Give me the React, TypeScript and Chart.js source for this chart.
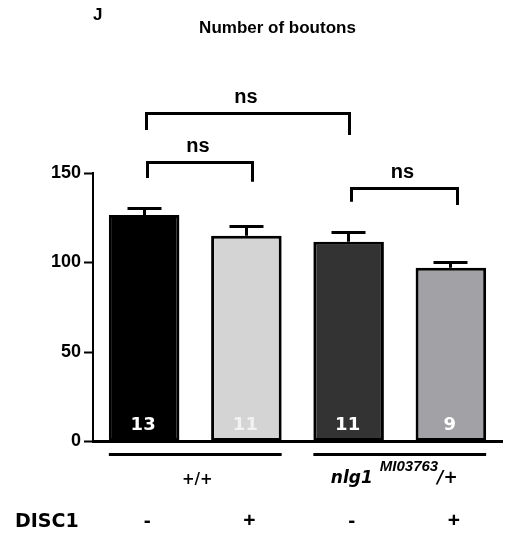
import React, { useEffect, useRef } from 'react';
import { Chart, registerables } from 'chart.js';

Chart.register(...registerables);

const categories = ['+/+ DISC1-', '+/+ DISC1+', 'nlg1 DISC1-', 'nlg1 DISC1+'];
const means = [126.5, 115.0, 111.6, 97.1];
const sems = [3.8, 5.2, 5.2, 3.0];
const nCounts = ['13', '11', '11', '9'];
const nColors = ['#ffffff', '#f2f2f2', '#ffffff', '#ffffff'];
const disc1Signs = ['-', '+', '-', '+'];
const barColors = ['#000000', '#d4d4d4', '#333333', '#a2a1a5'];
const yTicks = [0, 50, 100, 150];
const bracketFrom = [0.02, 0.03, 2.03];
const bracketTo = [2.01, 1.06, 3.06];
const bracketY = [183.5, 155.6, 141.5];
const bracketLeftEnd = [174, 147.2, 134];
const bracketRightEnd = [171.2, 145.1, 132.1];
const bracketLabels = ['ns', 'ns', 'ns'];
const groupLabels = ['+/+', 'nlg1'];
const groupSuperscript = 'MI03763';
const groupSuffix = '/+';
const title = 'Number of boutons';
const panel = 'J';
const rowLabel = 'DISC1';

export default function App() {
  const ref = useRef<HTMLCanvasElement>(null);

  useEffect(() => {
    const canvas = ref.current;
    if (!canvas) return;

    const snap = (v: number) => Math.round(v - 0.5) + 0.5;

    const overlay = {
      id: 'overlay',
      afterDatasetsDraw(chart: any) {
        const ctx = chart.ctx;
        const x = chart.scales.x;
        const y = chart.scales.y;
        const meta = chart.getDatasetMeta(0);
        ctx.save();
        // error bars
        ctx.strokeStyle = '#000';
        ctx.lineWidth = 3;
        ctx.lineCap = 'butt';
        meta.data.forEach((bar: any, i: number) => {
          const top = y.getPixelForValue(means[i]);
          const errTop = snap(y.getPixelForValue(means[i] + sems[i]));
          const bx = snap(bar.x);
          ctx.beginPath();
          ctx.moveTo(bx, top);
          ctx.lineTo(bx, errTop);
          ctx.moveTo(bx - 17, errTop);
          ctx.lineTo(bx + 17, errTop);
          ctx.stroke();
        });
        // n labels
        ctx.font = 'bold 18px "DejaVu Sans"';
        ctx.textAlign = 'center';
        ctx.textBaseline = 'middle';
        meta.data.forEach((bar: any, i: number) => {
          ctx.fillStyle = nColors[i];
          ctx.fillText(nCounts[i], bar.x - 1, y.getPixelForValue(0) - 16);
        });
        // brackets
        ctx.strokeStyle = '#000';
        ctx.lineWidth = 3;
        ctx.lineJoin = 'miter';
        ctx.fillStyle = '#000';
        ctx.font = 'bold 20px "Liberation Sans"';
        ctx.textBaseline = 'alphabetic';
        bracketFrom.forEach((f, i) => {
          const x1 = snap(x.getPixelForValue(f));
          const x2 = snap(x.getPixelForValue(bracketTo[i]));
          const yb = snap(y.getPixelForValue(bracketY[i]));
          ctx.beginPath();
          ctx.moveTo(x1, y.getPixelForValue(bracketLeftEnd[i]));
          ctx.lineTo(x1, yb);
          ctx.lineTo(x2, yb);
          ctx.lineTo(x2, y.getPixelForValue(bracketRightEnd[i]));
          ctx.stroke();
          ctx.fillText(bracketLabels[i], (x1 + x2) / 2 - 2, yb - 11);
        });
        // group lines
        const y0 = y.getPixelForValue(0);
        const lineY = snap(y0 + 12.5);
        const bw = (b: any) => b.width / 2;
        const g1l = meta.data[0].x - bw(meta.data[0]);
        const g1r = meta.data[1].x + bw(meta.data[1]);
        const g2l = meta.data[2].x - bw(meta.data[2]);
        const g2r = meta.data[3].x + bw(meta.data[3]);
        ctx.beginPath();
        ctx.moveTo(g1l, lineY);
        ctx.lineTo(g1r, lineY);
        ctx.moveTo(g2l, lineY);
        ctx.lineTo(g2r, lineY);
        ctx.stroke();
        // group labels
        ctx.textAlign = 'center';
        ctx.font = 'bold 15px "DejaVu Sans"';
        ctx.fillText(groupLabels[0], (g1l + g1r) / 2 + 2, y0 + 42);
        // nlg1 label with superscript
        const c2 = (g2l + g2r) / 2;
        ctx.font = 'italic bold 17px "DejaVu Sans"';
        const w1 = ctx.measureText(groupLabels[1]).width;
        ctx.font = 'italic bold 15px "Liberation Sans"';
        const w2 = ctx.measureText(groupSuperscript).width;
        ctx.font = 'italic bold 17px "DejaVu Sans"';
        const w3 = ctx.measureText(groupSuffix).width;
        const gap = 7;
        const total = w1 + gap + w2 + w3;
        let sx = c2 - total / 2 - 5;
        ctx.textAlign = 'left';
        ctx.fillText(groupLabels[1], sx, y0 + 41);
        sx += w1 + gap;
        ctx.font = 'italic bold 15px "Liberation Sans"';
        ctx.fillText(groupSuperscript, sx, y0 + 29.5);
        sx += w2 - 1;
        ctx.font = 'italic bold 17px "DejaVu Sans"';
        ctx.fillText(groupSuffix, sx, y0 + 41);
        // DISC1 row
        ctx.font = 'bold 19px "DejaVu Sans"';
        ctx.textAlign = 'left';
        ctx.fillText(rowLabel, 15, y0 + 85);
        ctx.textAlign = 'center';
        ctx.font = 'bold 21px "Liberation Sans"';
        meta.data.forEach((bar: any, i: number) => {
          ctx.fillText(disc1Signs[i], bar.x + 3, y0 + 85);
        });
        // title & panel letter
        ctx.font = 'bold 17px "Liberation Sans"';
        ctx.textAlign = 'center';
        ctx.fillText(title, 277.5, 33);
        ctx.font = 'bold 17px "Liberation Sans"';
        ctx.textAlign = 'left';
        ctx.fillText(panel, 93, 20);
        ctx.restore();
      },
    };

    const chart = new Chart(canvas, {
      type: 'bar',
      data: {
        labels: categories,
        datasets: [
          {
            data: means,
            backgroundColor: barColors,
            borderColor: '#000',
            borderWidth: 3,
            borderSkipped: false,
            barPercentage: 0.69,
            categoryPercentage: 1,
          },
        ],
      },
      options: {
        animation: false,
        responsive: true,
        maintainAspectRatio: false,
        layout: { padding: { top: 173, right: 6, bottom: 97.5, left: 0 } },
        plugins: {
          legend: { display: false },
          tooltip: { enabled: false },
          title: { display: false },
        },
        scales: {
          x: {
            display: true,
            grid: { display: false, drawTicks: false },
            ticks: { display: false },
            border: { display: true, color: '#000', width: 3 },
            afterFit: (s: any) => {
              s.height = 0;
            },
          },
          y: {
            min: 0,
            max: 150,
            afterBuildTicks: (s: any) => {
              s.ticks = yTicks.map((v) => ({ value: v }));
            },
            grid: {
              display: true,
              drawOnChartArea: false,
              drawTicks: true,
              tickLength: 9,
              tickWidth: 2,
              tickColor: '#000',
            },
            border: { display: true, color: '#000', width: 2 },
            ticks: {
              color: '#000',
              padding: 3,
              font: { family: '"Liberation Sans"', size: 18, weight: 'bold' },
            },
            afterFit: (s: any) => {
              s.width = 93;
            },
          },
        },
      },
      plugins: [overlay],
    });

    return () => chart.destroy();
  }, []);

  return (
    <div style={{ position: 'fixed', left: 0, top: 0, width: 508, height: 539, background: '#fff' }}>
      <canvas ref={ref} />
    </div>
  );
}
